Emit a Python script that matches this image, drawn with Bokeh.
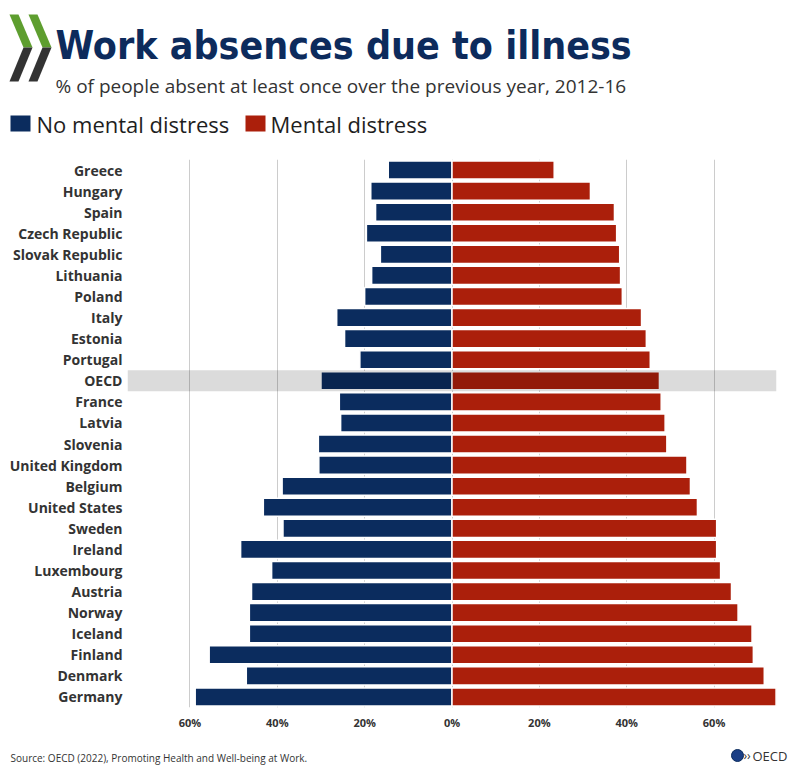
from bokeh.plotting import figure
from bokeh.models import Range1d, FactorRange, FixedTicker, ColumnDataSource
from bokeh.layouts import column
from bokeh.core.properties import value
from bokeh.embed import file_html
from bokeh.resources import INLINE

# ---------------- data ----------------
countries = ["Greece", "Hungary", "Spain", "Czech Republic", "Slovak Republic",
             "Lithuania", "Poland", "Italy", "Estonia", "Portugal", "OECD",
             "France", "Latvia", "Slovenia", "United Kingdom", "Belgium",
             "United States", "Sweden", "Ireland", "Luxembourg", "Austria",
             "Norway", "Iceland", "Finland", "Denmark", "Germany"]
no_distress = [14.6, 18.6, 17.5, 19.6, 16.4, 18.4, 20.0, 26.4, 24.6, 21.1, 30.0,
               25.8, 25.5, 30.6, 30.5, 38.9, 43.2, 38.7, 48.4, 41.3, 45.9,
               46.4, 46.4, 55.6, 47.1, 58.8]
distress = [23.4, 31.7, 37.2, 37.7, 38.4, 38.6, 39.0, 43.4, 44.5, 45.4, 47.5,
            47.9, 48.8, 49.2, 53.8, 54.6, 56.2, 60.6, 60.6, 61.5, 64.0,
            65.5, 68.7, 69.0, 71.5, 74.2]
series = ["No mental distress", "Mental distress"]
tick_values = [-60, -40, -20, 0, 20, 40, 60]
tick_labels = ["60%", "40%", "20%", "0%", "20%", "40%", "60%"]
highlight = "OECD"

title = "Work absences due to illness"
subtitle = "% of people absent at least once over the previous year, 2012-16"
source_note = "Source: OECD (2022), Promoting Health and Well-being at Work."
logo_text = "OECD"

NAVY = "#0b2c5e"
RED = "#ab1f0b"
TITLE_NAVY = "#0d2b5c"
GREEN = "#5e9e2f"
DARK = "#333333"
XMAX = 74.3
TITLE_FONT = "DejaVu Sans Condensed"


def blank(fig):
    fig.axis.visible = False
    fig.grid.visible = False
    fig.outline_line_color = None
    fig.frame_align = False
    return fig


# ---------------- header ----------------
header = blank(figure(width=800, height=150, x_range=Range1d(0, 800), y_range=Range1d(150, 0),
                      toolbar_location=None, output_backend="svg", min_border=0))

for x0 in (9, 28):
    header.patch([x0, x0 + 9, x0 + 23, x0 + 14], [14, 14, 47, 47], color=GREEN, line_width=0)
    header.patch([x0 + 14, x0 + 23, x0 + 9, x0], [47, 47, 81, 81], color=DARK, line_width=0)

header.text(x=[55], y=[45], text=[title], text_font=value(TITLE_FONT),
            text_font_style="bold", text_font_size="39px", text_color=TITLE_NAVY,
            text_baseline="middle")
header.text(x=[55], y=[85], text=[subtitle], text_font=value("Open Sans"),
            text_font_size="19px", text_color=DARK, text_baseline="middle")

header.quad(left=[10, 245], right=[30, 265], top=[115, 115], bottom=[131, 131],
            fill_color=[NAVY, RED], line_color=None)
header.text(x=[36, 270], y=[123, 123], text=series, text_font=value("Open Sans"),
            text_font_size="22px", text_color="#1e1e1e", text_baseline="middle")

# ---------------- main chart ----------------
src = ColumnDataSource(dict(country=countries,
                            left_no=[-v for v in no_distress],
                            right_md=distress))

p = figure(width=800, height=587, y_range=FactorRange(*reversed(countries)),
           x_range=Range1d(-XMAX, XMAX), toolbar_location=None, output_backend="svg",
           min_border_left=127, min_border_right=24, min_border_top=9, min_border_bottom=30)
p.frame_align = False
p.outline_line_color = None
p.ygrid.visible = False
p.xgrid.grid_line_color = "#cccccc"
p.xgrid.grid_line_width = 1
p.xaxis.ticker = FixedTicker(ticks=tick_values)
p.xaxis.major_label_overrides = {t: l for t, l in zip(tick_values, tick_labels)}

for ax in (p.xaxis, p.yaxis):
    ax.axis_line_color = None
    ax.major_tick_line_color = None
    ax.minor_tick_line_color = None
    ax.major_tick_out = 0
    ax.major_tick_in = 0
    ax.minor_tick_out = 0
    ax.minor_tick_in = 0
    ax.major_label_text_font = "Open Sans"
    ax.major_label_text_font_style = "bold"
    ax.major_label_text_color = DARK
p.yaxis.major_label_text_font_size = "14px"
p.xaxis.major_label_text_font_size = "11px"
p.xaxis.major_label_standoff = 7
p.yaxis.major_label_standoff = 5

p.hbar(y="country", left="left_no", right=0, height=0.86, source=src,
       fill_color=NAVY, line_color="white", line_width=1.5)
p.hbar(y="country", left=0, right="right_md", height=0.86, source=src,
       fill_color=RED, line_color="white", line_width=1.5)
# highlight band over the OECD average row
p.hbar(y=[highlight], left=-XMAX, right=XMAX, height=1.0,
       fill_color="black", fill_alpha=0.14, line_color=None)

# ---------------- footer ----------------
footer = blank(figure(width=800, height=40, x_range=Range1d(0, 800), y_range=Range1d(40, 0),
                      toolbar_location=None, output_backend="svg", min_border=0))
footer.text(x=[10], y=[20], text=[source_note], text_font=value("Open Sans"),
            text_font_size="10px", text_color=DARK, text_baseline="middle")
footer.scatter(x=[737], y=[18], size=12, fill_color="#1b3f86", line_color="#0b2c5e")
footer.text(x=[743], y=[18], text=["\u203a\u203a"], text_font=value("Open Sans"),
            text_font_size="12px", text_color=DARK, text_baseline="middle")
footer.text(x=[752], y=[18], text=[logo_text], text_font=value("Open Sans"),
            text_font_size="13px", text_color=DARK, text_baseline="middle")

layout = column(header, p, footer, spacing=0)
open("out.html", "w").write(file_html(layout, INLINE))
